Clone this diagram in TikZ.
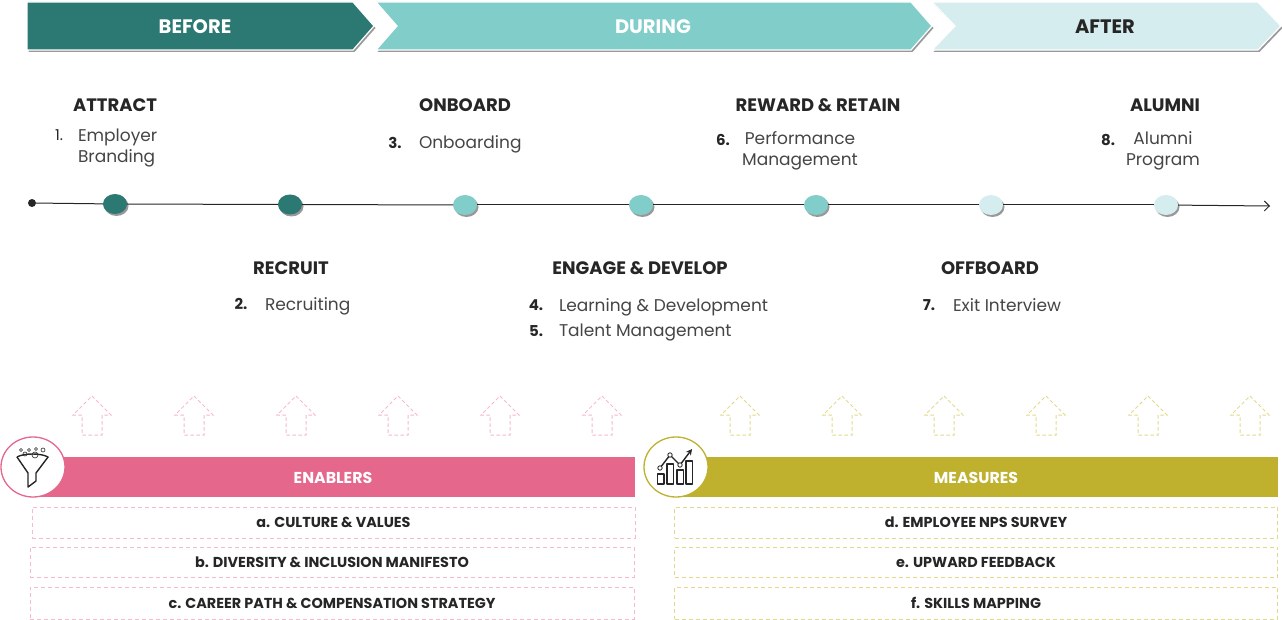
\documentclass[tikz,border=0pt]{standalone}
\usepackage{fontspec}
\setmainfont{Poppins}
\usetikzlibrary{arrows.meta}
\usetikzlibrary{shadows}
\usetikzlibrary{shapes.geometric}

\definecolor{tealdark}{HTML}{2C7873}
\definecolor{tealmid}{HTML}{81CDC9}
\definecolor{tealpale}{HTML}{D5EDEE}
\definecolor{enablerpink}{HTML}{E5678C}
\definecolor{measureolive}{HTML}{BFB12E}
\definecolor{pinkdash}{HTML}{F6B9CD}
\definecolor{olivedash}{HTML}{E2D98A}
\definecolor{inkdark}{HTML}{262626}
\definecolor{inkgrey}{HTML}{454545}

\begin{document}
\begin{tikzpicture}[x=1pt,y=-1pt,inner sep=0pt,outer sep=0pt,
softshadow/.style={drop shadow={shadow xshift=1.5pt,shadow yshift=-2pt,opacity=0.4,fill=black}},
banner/.style={draw=white,line width=1.2pt,softshadow},
bannertext/.style={font=\bfseries\fontsize{19.5}{22}\selectfont},
stopdot/.style={draw=none,ellipse,minimum width=24pt,minimum height=20pt,softshadow},
heading/.style={font=\bfseries\fontsize{18}{20}\selectfont,text=inkdark},
itemnum/.style={font=\bfseries\fontsize{15}{18}\selectfont,text=inkdark},
itemtext/.style={font=\fontsize{17}{21}\selectfont,text=inkgrey,align=left},
bartext/.style={font=\bfseries\fontsize{15.8}{18}\selectfont,text=white},
dashbox/.style={draw,dashed,dash pattern=on 4pt off 3pt,line width=1pt,minimum height=31pt,minimum width=603pt,
  font=\bfseries\fontsize{14.4}{16}\selectfont,text=inkdark},
uparrow/.style={dashed,dash pattern=on 3.5pt off 2.5pt,line width=1pt},
iconline/.style={draw=inkdark,line width=1.4pt,line join=round}]

\useasboundingbox (0,0) rectangle (1282,620);

% phase banners
\draw[banner,fill=tealdark] (27,2) -- (353,2) -- (374,26) -- (353,50) -- (27,50) -- cycle;
\draw[banner,fill=tealmid] (376,2) -- (911,2) -- (932,26) -- (911,50) -- (376,50) -- (397,26) -- cycle;
\draw[banner,fill=tealpale] (932,2) -- (1258,2) -- (1281,26) -- (1258,50) -- (932,50) -- (955,26) -- cycle;
\draw (195,26.5) node[bannertext,text=white] (before) {BEFORE};
\draw (653,26.5) node[bannertext,text=white] (during) {DURING};
\draw (1105,26.5) node[bannertext,text=inkdark] (after) {AFTER};

% timeline
\draw (32,203) node[circle,fill=inkdark,minimum size=8pt] (start) {};
\draw (115,204) node[stopdot,fill=tealdark] (s1) {};
\draw (290,204.5) node[stopdot,fill=tealdark] (s2) {};
\draw (465,205) node[stopdot,fill=tealmid] (s3) {};
\draw (641,205) node[stopdot,fill=tealmid] (s4) {};
\draw (816,205) node[stopdot,fill=tealmid] (s5) {};
\draw (991,205) node[stopdot,fill=tealpale] (s6) {};
\draw (1166,205) node[stopdot,fill=tealpale] (s7) {};
\coordinate (stop) at (1270,206);

\draw[inkdark,line width=1pt] (start) -- (s1);
\draw[inkdark,line width=1pt] (s1) -- (s2);
\draw[inkdark,line width=1pt] (s2) -- (s3);
\draw[inkdark,line width=1pt] (s3) -- (s4);
\draw[inkdark,line width=1pt] (s4) -- (s5);
\draw[inkdark,line width=1pt] (s5) -- (s6);
\draw[inkdark,line width=1pt] (s6) -- (s7);
\draw[inkdark,line width=1pt,-{Straight Barb[length=5pt,width=10pt]}] (s7) -- (stop);

% upper labels
\draw (115,105) node[heading] (attract) {ATTRACT};
\draw (59,135) node[itemnum,font=\fontsize{15}{18}\selectfont] (n1) {1.};
\draw (78,148) node[itemtext,anchor=west] (t1) {Employer\\Branding};
\draw (465,105) node[heading] (onboard) {ONBOARD};
\draw (395,143) node[itemnum] (n3) {3.};
\draw (419,144) node[itemtext,anchor=west] (t3) {Onboarding};
\draw (818,105) node[heading] (reward) {REWARD \& RETAIN};
\draw (723,140) node[itemnum] (n6) {6.};
\draw (800,151) node[itemtext,align=center] (t6) {Performance\\Management};
\draw (1165,105) node[heading] (alumni) {ALUMNI};
\draw (1108,140) node[itemnum] (n8) {8.};
\draw (1163,151) node[itemtext,align=center] (t8) {Alumni\\Program};

% lower labels
\draw (291,268) node[heading] (recruit) {RECRUIT};
\draw (241,304) node[itemnum] (n2) {2.};
\draw (265,306) node[itemtext,anchor=west] (t2) {Recruiting};
\draw (640,268) node[heading] (engage) {ENGAGE \& DEVELOP};
\draw (536,305) node[itemnum] (n4) {4.};
\draw (559,307) node[itemtext,anchor=west] (t4) {Learning \& Development};
\draw (536,331) node[itemnum] (n5) {5.};
\draw (559,333) node[itemtext,anchor=west] (t5) {Talent Management};
\draw (990,268) node[heading] (offboard) {OFFBOARD};
\draw (929,305) node[itemnum] (n7) {7.};
\draw (953,305) node[itemtext,anchor=west] (t7) {Exit Interview};

% dashed arrows
\foreach \x in {92,194,296,398,500,602}
  \draw[uparrow,pinkdash] (\x,396) -- ++(19,19) -- ++(-9,0) -- ++(0,20) -- ++(-20,0) -- ++(0,-20) -- ++(-9,0) -- cycle;
\foreach \x in {740,842,944,1046,1148,1250}
  \draw[uparrow,olivedash] (\x,396) -- ++(19,19) -- ++(-9,0) -- ++(0,20) -- ++(-20,0) -- ++(0,-20) -- ++(-9,0) -- cycle;

% enablers
\fill[enablerpink] (32,457) rectangle (635,497);
\draw (333,478) node[bartext] (enablers) {ENABLERS};
\draw[enablerpink,fill=white,line width=1.3pt] (33,467) ellipse (32 and 30);
\draw[iconline] (17,457) .. controls (24,463) and (41,463) .. (48,457) .. controls (41,453) and (24,453) .. (17,457);
\draw[iconline,fill=white] (17,457) -- (28,473) -- (28,487) -- (36,481) -- (36,473) -- (48,457);
\foreach \x/\y/\r in {21/450/1.5,25/454/2,29/450/1.5,35/455/3,36/449/1.5,43/450/2}
  \draw[inkdark,line width=0.6pt] (\x,\y) circle (\r);

\draw (333.5,522.5) node[dashbox,pinkdash] (a) {\textcolor{inkdark}{a. CULTURE \& VALUES}};
\draw (332,562) node[dashbox,pinkdash,minimum height=30pt,minimum width=604pt] (b) {\textcolor{inkdark}{b. DIVERSITY \& INCLUSION MANIFESTO}};
\draw (332,603) node[dashbox,pinkdash,minimum height=32pt,minimum width=604pt] (c) {\textcolor{inkdark}{c. CAREER PATH \& COMPENSATION STRATEGY}};

% measures
\fill[measureolive] (676,457) rectangle (1278,497);
\draw (976,478) node[bartext] (measures) {MEASURES};
\draw[measureolive,fill=white,line width=1.3pt] (676,467) ellipse (32 and 30);
\draw[iconline] (657.5,484) rectangle (664,474);
\draw[iconline] (667,484) rectangle (673.5,464);
\draw[iconline] (677,484) rectangle (683.5,470);
\draw[iconline] (686,484) rectangle (692.5,461);
\draw[iconline,-{Stealth[length=6pt,width=6pt]}] (660,468) -- (670,455) -- (680,465) -- (692,449);
\foreach \x/\y in {660/468,670/455,680/465}
  \draw[iconline,fill=white,line width=0.8pt] (\x,\y) circle (2.2);

\draw (976,522.5) node[dashbox,olivedash] (d) {\textcolor{inkdark}{d. EMPLOYEE NPS SURVEY}};
\draw (976,562) node[dashbox,olivedash,minimum height=30pt] (e) {\textcolor{inkdark}{e. UPWARD FEEDBACK}};
\draw (976,603) node[dashbox,olivedash,minimum height=32pt] (f) {\textcolor{inkdark}{f. SKILLS MAPPING}};

\end{tikzpicture}
\end{document}
